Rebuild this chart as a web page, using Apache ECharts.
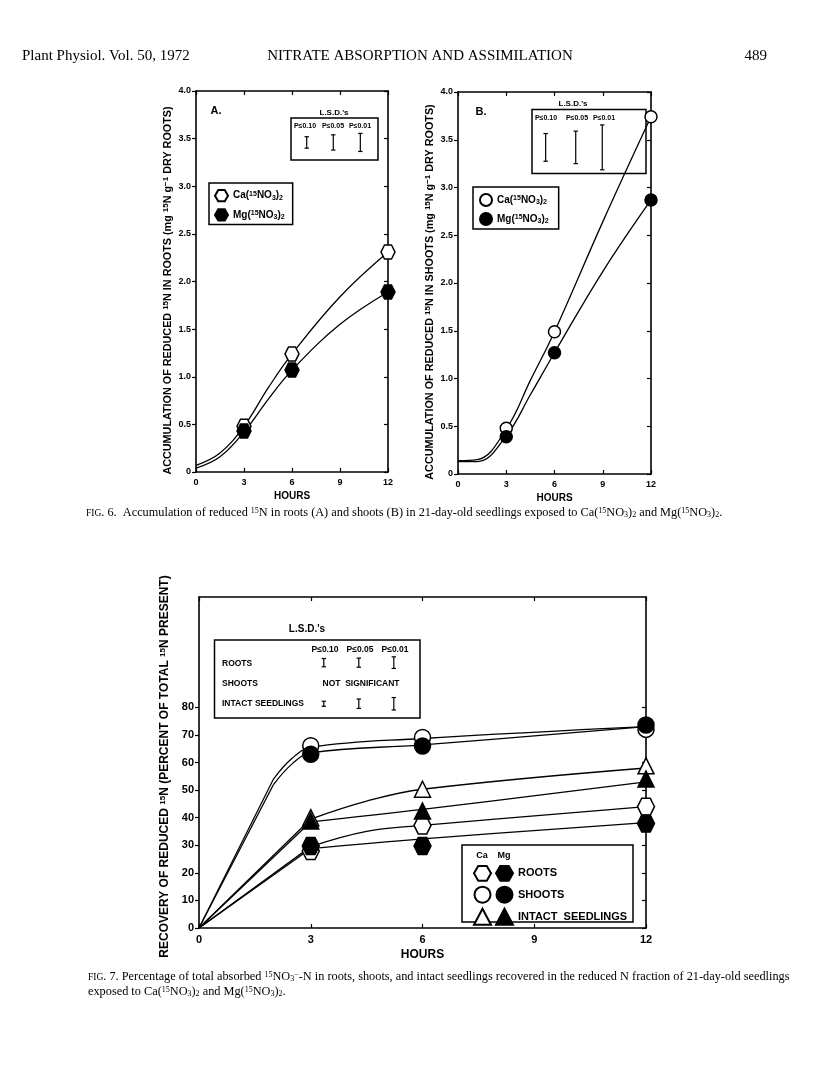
<!DOCTYPE html>
<html><head><meta charset="utf-8">
<script src="https://cdn.jsdelivr.net/npm/echarts@6/dist/echarts.min.js"></script>
<style>html,body{margin:0;padding:0;background:#fff;}#c{width:816px;height:1079px;}</style>
</head><body><div id="c"></div><script>
// ---------- DATA ----------
const hourTicks = ['0','3','6','9','12'];
const yTicks6 = ['0','0.5','1.0','1.5','2.0','2.5','3.0','3.5','4.0'];
const yTicks7 = ['0','10','20','30','40','50','60','70','80'];
const markHours = [3, 6, 12];

// Fig 6A roots (fitted curve readings and plotted points)
const curveHoursA = [0, 1.5, 3, 4.5, 6, 9, 12];
const caCurveA = [0.07, 0.20, 0.48, 0.88, 1.24, 1.84, 2.31];
const mgCurveA = [0.04, 0.16, 0.42, 0.76, 1.07, 1.55, 1.89];
const caPtsA = [0.48, 1.24, 2.31];
const mgPtsA = [0.43, 1.07, 1.89];
// L.S.D. bars A (x position in hours, centre, length)
const lsdXA = [6.92, 8.58, 10.27];
const lsdLenA = [0.12, 0.16, 0.19];
const lsdMidA = 3.46;

// Fig 6B shoots
const curveHoursB = [0, 1.2, 3, 4.5, 6, 9, 12];
const caCurveB = [0.14, 0.15, 0.47, 0.98, 1.49, 2.64, 3.74];
const mgCurveB = [0.13, 0.13, 0.40, 0.83, 1.27, 2.12, 2.87];
const caPtsB = [0.48, 1.49, 3.74];
const mgPtsB = [0.39, 1.27, 2.87];
const lsdXB = [5.45, 7.32, 8.97];
const lsdLenB = [0.29, 0.34, 0.47];
const lsdMidB = 3.42;

// Fig 7 recovery (%)
const shootCurveHours = [0, 2, 2.5, 3, 6, 12];
const shootCaCurve = [0, 54, 61.5, 65.5, 68.7, 73];
const shootMgCurve = [0, 52, 59.5, 63.5, 66.4, 73];
const intactCaHours = [0, 3, 4.5, 6, 12];
const intactCaCurve = [0, 39.5, 46, 50.3, 58];
const intactMgHours = [0, 3, 6, 12];
const intactMgCurve = [0, 38.5, 43, 53];
const rootsCaHours = [0, 3, 4.5, 6, 12];
const rootsCaCurve = [0, 29.5, 35, 37.2, 44];
const rootsMgHours = [0, 3, 6, 12];
const rootsMgCurve = [0, 28.8, 32.3, 38.2];

const rootsCa7 = [27.9, 37.2, 44.0];
const rootsMg7 = [29.7, 29.7, 37.9];
const shootsCa7 = [66.1, 69.1, 72.0];
const shootsMg7 = [63.0, 66.0, 73.6];
const intactCa7 = [40.0, 50.3, 58.8];
const intactMg7 = [38.8, 42.4, 54.0];

const lsdX7 = [3.35, 4.29, 5.23];
const lsdRootsLen = [3.0, 3.3, 4.2];
const lsdRootsMid = 96.2;
const lsdIntactLen = [1.8, 3.4, 4.5];
const lsdIntactMid = 81.3;

// ---------- STYLE HELPERS ----------
const SANS = '"Liberation Sans", Arial, sans-serif';
const SERIF = '"Liberation Serif", "Times New Roman", serif';
const HEX = 'path://M0,50 L25,6.7 L75,6.7 L100,50 L75,93.3 L25,93.3 Z';
const zip = (xs, ys) => xs.map((x, i) => [x, ys[i]]);

const supRich = (fs) => ({
  n: {fontSize: fs, fontWeight: 'bold', fontFamily: SANS, color: '#000'},
  sup: {fontSize: Math.round(fs * 0.7), fontWeight: 'bold', fontFamily: SANS, color: '#000', verticalAlign: 'top', padding: [0, 0, 4, 0]},
  sub: {fontSize: Math.round(fs * 0.7), fontWeight: 'bold', fontFamily: SANS, color: '#000', verticalAlign: 'bottom', padding: [4, 0, 0, 0]}
});

function lsdRender(params, api) {
  const x = api.value(0), lo = api.value(1), hi = api.value(2);
  const a = api.coord([x, lo]), b = api.coord([x, hi]);
  const c = 2.2;
  const st = {stroke: '#000', lineWidth: 1.2};
  return {type: 'group', children: [
    {type: 'line', shape: {x1: a[0], y1: a[1], x2: b[0], y2: b[1]}, style: st},
    {type: 'line', shape: {x1: a[0] - c, y1: a[1], x2: a[0] + c, y2: a[1]}, style: st},
    {type: 'line', shape: {x1: b[0] - c, y1: b[1], x2: b[0] + c, y2: b[1]}, style: st}
  ]};
}
const lsdData = (xs, lens, mid) => xs.map((x, i) => [x, mid - lens[i] / 2, mid + lens[i] / 2]);

function frameAxes(gi, yMax, yInt, yLabels, fs, tickVals) {
  const lab = {fontSize: fs, fontWeight: 'bold', fontFamily: SANS, color: '#000'};
  const line = {show: true, onZero: false, lineStyle: {color: '#000', width: 1.6}};
  const tk = (inside) => ({show: true, inside, length: 4, lineStyle: {color: '#000', width: 1.2}});
  const xs = [
    {gridIndex: gi, type: 'value', min: 0, max: 12, interval: 3, axisLine: line, axisTick: tk(true),
     axisLabel: Object.assign({margin: 6, formatter: v => hourTicks[v / 3]}, lab),
     splitLine: {show: false}, name: 'HOURS', nameLocation: 'middle',
     nameGap: fs + 10, nameTextStyle: {fontSize: fs + 1, fontWeight: 'bold', fontFamily: SANS, color: '#000'}},
    {gridIndex: gi, type: 'value', min: 0, max: 12, interval: 3, position: 'top', axisLine: line, axisTick: tk(true),
     axisLabel: {show: false}, splitLine: {show: false}}
  ];
  const tickExtra = tickVals ? {customValues: tickVals} : {};
  const ys = [
    {gridIndex: gi, type: 'value', min: 0, max: yMax, interval: yInt, axisLine: line,
     axisTick: Object.assign(tk(false), tickExtra),
     axisLabel: Object.assign({margin: 5, formatter: v => yLabels[Math.round(v / yInt)]}, lab, tickExtra),
     splitLine: {show: false}},
    {gridIndex: gi, type: 'value', min: 0, max: yMax, interval: yInt, position: 'right', axisLine: line,
     axisTick: Object.assign(tk(true), tickExtra),
     axisLabel: {show: false}, splitLine: {show: false}}
  ];
  return {xs, ys};
}

const fA = frameAxes(0, 4, 0.5, yTicks6, 9);
const fB = frameAxes(1, 4, 0.5, yTicks6, 9);
const f7 = frameAxes(2, 120, 10, yTicks7, 11, [0,10,20,30,40,50,60,70,80]);

fA.ys[0].name = 'ACCUMULATION OF REDUCED {sup|15}N IN ROOTS (mg {sup|15}N g{sup|−1} DRY ROOTS)';
fB.ys[0].name = 'ACCUMULATION OF REDUCED {sup|15}N IN SHOOTS (mg {sup|15}N g{sup|−1} DRY ROOTS)';
f7.ys[0].name = 'RECOVERY OF REDUCED {sup|15}N (PERCENT OF TOTAL {sup|15}N PRESENT)';
[fA, fB].forEach(f => Object.assign(f.ys[0], {nameLocation: 'middle', nameRotate: 90, nameGap: 22,
  nameTextStyle: {fontSize: 10.8, fontWeight: 'bold', fontFamily: SANS, color: '#000', padding: [0, 18, 0, 0], rich: supRich(10.8)}}));
Object.assign(f7.ys[0], {nameLocation: 'middle', nameRotate: 90, nameGap: 26,
  nameTextStyle: {fontSize: 12, fontWeight: 'bold', fontFamily: SANS, color: '#000', padding: [0, 8, 0, 0], rich: supRich(12)}});

const xAxes = [...fA.xs, ...fB.xs, ...f7.xs];
const yAxes = [...fA.ys, ...fB.ys, ...f7.ys];

// fitted curve: straight from the origin up to point `knee`, smooth afterwards
function curve(xi, yi, hours, vals, knee) {
  const pts = zip(hours, vals);
  const base = {type: 'line', xAxisIndex: xi, yAxisIndex: yi, showSymbol: false, symbol: 'none',
    lineStyle: {color: '#000', width: 1.3}, z: 2, silent: true, animation: false};
  const out = [Object.assign({}, base, {data: pts.slice(knee || 0), smooth: 0.4})];
  if (knee) out.push(Object.assign({}, base, {data: pts.slice(0, knee + 1), smooth: false}));
  return out;
}
function pts(name, xi, yi, vals, symbol, size, filled) {
  return {type: 'scatter', name, xAxisIndex: xi, yAxisIndex: yi, data: zip(markHours, vals),
    symbol, symbolSize: size, itemStyle: {color: filled ? '#000' : '#fff', borderColor: '#000', borderWidth: 1.5, opacity: 1},
    z: 4, animation: false};
}
function lsd(xi, yi, data) {
  return {type: 'custom', xAxisIndex: xi, yAxisIndex: yi, renderItem: lsdRender, data, clip: false, z: 5, animation: false};
}

const series = [
  ...curve(0, 0, curveHoursA, caCurveA), ...curve(0, 0, curveHoursA, mgCurveA),
  pts('CaA', 0, 0, caPtsA, HEX, 14, false), pts('MgA', 0, 0, mgPtsA, HEX, 14, true),
  lsd(0, 0, lsdData(lsdXA, lsdLenA, lsdMidA)),

  ...curve(2, 2, curveHoursB, caCurveB), ...curve(2, 2, curveHoursB, mgCurveB),
  pts('CaB', 2, 2, caPtsB, 'circle', 12, false), pts('MgB', 2, 2, mgPtsB, 'circle', 12, true),
  lsd(2, 2, lsdData(lsdXB, lsdLenB, lsdMidB)),

  ...curve(4, 4, shootCurveHours, shootCaCurve, 1), ...curve(4, 4, shootCurveHours, shootMgCurve, 1),
  ...curve(4, 4, intactCaHours, intactCaCurve, 1), ...curve(4, 4, intactMgHours, intactMgCurve, 1),
  ...curve(4, 4, rootsCaHours, rootsCaCurve, 1), ...curve(4, 4, rootsMgHours, rootsMgCurve, 1),
  pts('Roots Ca', 4, 4, rootsCa7, HEX, 17, false), pts('Roots Mg', 4, 4, rootsMg7, HEX, 17, true),
  pts('Shoots Ca', 4, 4, shootsCa7, 'circle', 16, false), pts('Shoots Mg', 4, 4, shootsMg7, 'circle', 16, true),
  pts('Intact Ca', 4, 4, intactCa7, 'triangle', 16, false), pts('Intact Mg', 4, 4, intactMg7, 'triangle', 16, true),
  lsd(4, 4, lsdData(lsdX7, lsdRootsLen, lsdRootsMid)),
  lsd(4, 4, lsdData(lsdX7, lsdIntactLen, lsdIntactMid))
];

const saltRich = supRich(10);
const legendText6 = {fontSize: 10, fontWeight: 'bold', fontFamily: SANS, color: '#000', rich: saltRich};
const saltLabel = n => n.startsWith('Ca') ? '{n|Ca(}{sup|15}{n|NO}{sub|3}{n|)}{sub|2}' : '{n|Mg(}{sup|15}{n|NO}{sub|3}{n|)}{sub|2}';

const legends = [
  {left: 209, top: 183, orient: 'vertical', itemWidth: 13, itemHeight: 13, itemGap: 6,
   padding: [6, 8, 3, 5], borderColor: '#000', borderWidth: 1.5, borderRadius: 0,
   data: ['CaA', 'MgA'], formatter: saltLabel, textStyle: legendText6, selectedMode: false},
  {left: 473, top: 187, orient: 'vertical', itemWidth: 12, itemHeight: 12, itemGap: 5,
   padding: [6, 10, 3, 6], borderColor: '#000', borderWidth: 1.5, borderRadius: 0,
   data: ['CaB', 'MgB'], formatter: saltLabel, textStyle: legendText6, selectedMode: false},
  {left: 473, top: 865, orient: 'vertical', itemWidth: 17, itemHeight: 16, itemGap: 4, padding: 0,
   data: ['Roots Ca', 'Shoots Ca', 'Intact Ca'], formatter: () => '', selectedMode: false,
   textStyle: {fontSize: 1}},
  {left: 495, top: 865, orient: 'vertical', itemWidth: 17, itemHeight: 16, itemGap: 4, padding: 0,
   data: ['Roots Mg', 'Shoots Mg', 'Intact Mg'], selectedMode: false,
   formatter: n => ({'Roots Mg': 'ROOTS', 'Shoots Mg': 'SHOOTS', 'Intact Mg': 'INTACT  SEEDLINGS'})[n],
   textStyle: {fontSize: 11, fontWeight: 'bold', fontFamily: SANS, color: '#000'}}
];

const T = (x, y, text, fs, opts) => ({type: 'text', x, y,
  style: Object.assign({text, fill: '#000', font: `bold ${fs}px ${SANS}`, textAlign: 'center', textVerticalAlign: 'middle'}, opts || {})});
const R = (x, y, w, h) => ({type: 'rect', shape: {x, y, width: w, height: h}, style: {fill: 'none', stroke: '#000', lineWidth: 1.5}});

const capRich = {
  n: {fontSize: 12.3, fontFamily: SERIF, color: '#000'},
  sc: {fontSize: 9.5, fontFamily: SERIF, color: '#000'},
  sup: {fontSize: 8, fontFamily: SERIF, color: '#000', verticalAlign: 'top', padding: [0, 0, 3, 0]},
  sub: {fontSize: 8, fontFamily: SERIF, color: '#000', verticalAlign: 'bottom', padding: [3, 0, 0, 0]}
};
const capText = (x, y, text) => ({type: 'text', x, y, style: {text, rich: capRich, textAlign: 'left', textVerticalAlign: 'middle'}});

const graphics = [
  {type: 'text', x: 22, y: 56, style: {text: 'Plant Physiol. Vol. 50, 1972', font: `15px ${SERIF}`, fill: '#000', textVerticalAlign: 'middle'}},
  {type: 'text', x: 420, y: 56, style: {text: 'NITRATE ABSORPTION AND ASSIMILATION', font: `15px ${SERIF}`, fill: '#000', textAlign: 'center', textVerticalAlign: 'middle'}},
  {type: 'text', x: 767, y: 56, style: {text: '489', font: `15px ${SERIF}`, fill: '#000', textAlign: 'right', textVerticalAlign: 'middle'}},

  // Fig 6A insets
  T(216, 111, 'A.', 11),
  T(334, 113, "L.S.D.'s", 8),
  R(291, 118, 87, 42),
  T(305, 126.5, 'P≤0.10', 7), T(333, 126.5, 'P≤0.05', 7), T(360, 126.5, 'P≤0.01', 7),
  // Fig 6B insets
  T(481, 112, 'B.', 11),
  T(573, 103.5, "L.S.D.'s", 8),
  R(532, 109.5, 114, 64),
  T(546, 118, 'P≤0.10', 7), T(577, 118, 'P≤0.05', 7), T(604, 118, 'P≤0.01', 7),

  capText(86, 513, '{sc|F}{sc|IG}{n|. 6.  Accumulation of reduced }{sup|15}{n|N in roots (A) and shoots (B) in 21-day-old seedlings exposed to Ca(}{sup|15}{n|NO}{sub|3}{n|)}{sub|2}{n| and Mg(}{sup|15}{n|NO}{sub|3}{n|)}{sub|2}{n|.}'),

  // Fig 7 insets
  T(307, 629, "L.S.D.'s", 10),
  R(214.5, 640, 205.5, 78),
  T(325, 650, 'P≤0.10', 8.5), T(360, 650, 'P≤0.05', 8.5), T(395, 650, 'P≤0.01', 8.5),
  T(222, 663.5, 'ROOTS', 8.5, {textAlign: 'left'}),
  T(222, 684, 'SHOOTS', 8.5, {textAlign: 'left'}),
  T(222, 703.5, 'INTACT SEEDLINGS', 8.5, {textAlign: 'left'}),
  T(361, 684, 'NOT  SIGNIFICANT', 8.5),
  R(462, 845, 171, 77),
  T(482, 856, 'Ca', 9), T(504, 856, 'Mg', 9),

  capText(88, 977, '{sc|F}{sc|IG}{n|. 7. Percentage of total absorbed }{sup|15}{n|NO}{sub|3}{sup|−}{n|-N in roots, shoots, and intact seedlings recovered in the reduced N fraction of 21-day-old seedlings}'),
  capText(88, 992, '{n|exposed to Ca(}{sup|15}{n|NO}{sub|3}{n|)}{sub|2}{n| and Mg(}{sup|15}{n|NO}{sub|3}{n|)}{sub|2}{n|.}')
];

const chart = echarts.init(document.getElementById('c'), null, {renderer: 'canvas'});
chart.setOption({
  backgroundColor: '#fff',
  animation: false,
  grid: [
    {left: 196, top: 91, width: 192, height: 381},
    {left: 458, top: 92, width: 193, height: 382},
    {left: 199, top: 597, width: 447, height: 331}
  ],
  xAxis: xAxes,
  yAxis: yAxes,
  legend: legends,
  series,
  graphic: graphics
});
</script></body></html>
